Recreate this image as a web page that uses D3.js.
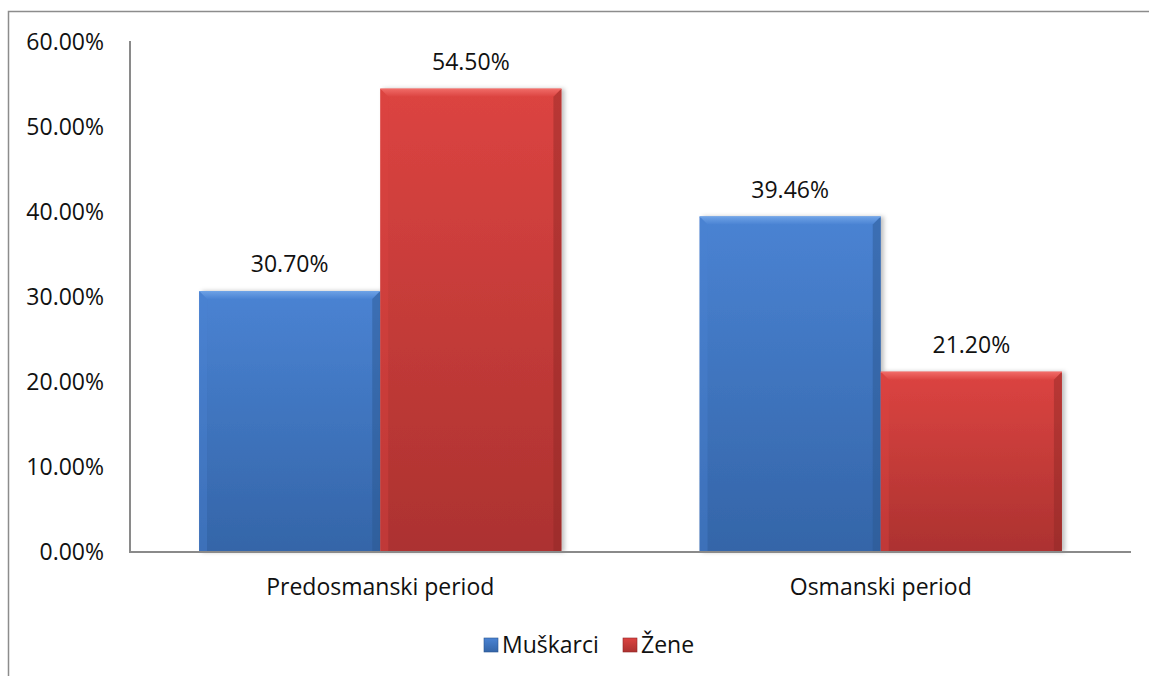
<!DOCTYPE html>
<html>
<head>
<meta charset="utf-8">
<script src="https://cdnjs.cloudflare.com/ajax/libs/d3/7.8.5/d3.min.js"></script>
<style>
  body { margin: 0; background: #fff; }
  svg { font-family: "Open Sans", Lato, sans-serif; }
</style>
</head>
<body>
<div id="chart"></div>
<script>
var categories = ["Predosmanski period", "Osmanski period"];
var seriesNames = ["Muškarci", "Žene"];
var muskarci = [0.307, 0.3946];
var zene = [0.545, 0.212];
var yTicks = [0, 0.1, 0.2, 0.3, 0.4, 0.5, 0.6];

var width = 1149, height = 676;
var margin = {top: 42, right: 18, bottom: 124, left: 130};
var fontSize = 23;

var svg = d3.select("#chart").append("svg")
    .attr("width", width)
    .attr("height", height);

// outer chart frame (left + top only visible)
svg.append("path")
    .attr("d", "M8.5," + height + "V11.5H" + width)
    .attr("fill", "none")
    .attr("stroke", "#8c8c8c")
    .attr("stroke-width", 1.5);

var defs = svg.append("defs");
var palettes = [
  {light: "#6ea2e6", mid: "#4a83d3", dark: "#3465a8", edge: "#2a568f"},
  {light: "#f06b67", mid: "#dc4441", dark: "#ac3230", edge: "#8f2726"}
];
palettes.forEach(function (p, i) {
  var g = defs.append("linearGradient").attr("id", "fill" + i)
      .attr("x1", 0).attr("y1", 0).attr("x2", 0).attr("y2", 1);
  g.append("stop").attr("offset", "0%").attr("stop-color", p.mid);
  g.append("stop").attr("offset", "100%").attr("stop-color", p.dark);
  var t = defs.append("linearGradient").attr("id", "top" + i)
      .attr("x1", 0).attr("y1", 0).attr("x2", 0).attr("y2", 1);
  t.append("stop").attr("offset", "0%").attr("stop-color", p.light);
  t.append("stop").attr("offset", "100%").attr("stop-color", p.mid);
});
var shadow = defs.append("filter").attr("id", "shadow")
    .attr("x", "-10%").attr("y", "-10%").attr("width", "130%").attr("height", "120%");
shadow.append("feDropShadow").attr("dx", 3).attr("dy", 0).attr("stdDeviation", 2)
    .attr("flood-color", "#000").attr("flood-opacity", 0.25);

var x0 = d3.scaleBand()
    .domain(categories)
    .range([margin.left, width - margin.right])
    .paddingInner(0.276)
    .paddingOuter(0.138);
var x1 = d3.scaleBand()
    .domain(seriesNames)
    .range([0, x0.bandwidth()]);
var y = d3.scaleLinear()
    .domain([0, 0.6])
    .range([height - margin.bottom, margin.top]);

var fmt = d3.format(".2%");

// y axis labels
svg.append("g").selectAll("text")
  .data(yTicks).enter().append("text")
    .attr("x", 104)
    .attr("y", function (d) { return y(d); })
    .attr("dy", "0.35em")
    .attr("text-anchor", "end")
    .attr("font-size", fontSize)
    .attr("fill", "#111")
    .text(fmt);

var rows = [];
categories.forEach(function (c, i) {
  rows.push({cat: c, s: 0, v: muskarci[i]});
  rows.push({cat: c, s: 1, v: zene[i]});
});

var bars = svg.append("g").selectAll("g.bar")
  .data(rows).enter().append("g").attr("class", "bar");

bars.each(function (d) {
  var g = d3.select(this);
  var bx = x0(d.cat) + x1(seriesNames[d.s]);
  var bw = x1.bandwidth();
  var by = y(d.v);
  var bh = y(0) - by;
  var p = palettes[d.s];
  var b = 8;
  g.append("rect").attr("x", bx).attr("y", by).attr("width", bw).attr("height", bh)
      .attr("fill", "url(#fill" + d.s + ")").attr("filter", "url(#shadow)");
  // top bevel
  g.append("path")
      .attr("d", "M" + bx + "," + by + "H" + (bx + bw) + "L" + (bx + bw - b) + "," + (by + b) + "H" + (bx + b) + "Z")
      .attr("fill", "url(#top" + d.s + ")");
  // left bevel
  g.append("path")
      .attr("d", "M" + bx + "," + by + "L" + (bx + b) + "," + (by + b) + "V" + (by + bh) + "H" + bx + "Z")
      .attr("fill", p.mid).attr("opacity", 0.4);
  // right bevel
  g.append("path")
      .attr("d", "M" + (bx + bw) + "," + by + "L" + (bx + bw - b) + "," + (by + b) + "V" + (by + bh) + "H" + (bx + bw) + "Z")
      .attr("fill", p.edge).attr("opacity", 0.45);
  g.append("line").attr("x1", bx).attr("x2", bx + bw).attr("y1", by + 0.5).attr("y2", by + 0.5)
      .attr("stroke", p.light).attr("stroke-width", 1);
  g.append("text")
      .attr("x", bx + bw / 2)
      .attr("y", by - 19)
      .attr("text-anchor", "middle")
      .attr("font-size", fontSize)
      .attr("fill", "#111")
      .text(fmt(d.v));
});

// axes lines
svg.append("line")
    .attr("x1", margin.left).attr("x2", margin.left)
    .attr("y1", margin.top - 1).attr("y2", y(0))
    .attr("stroke", "#8a8a8a").attr("stroke-width", 2);
svg.append("line")
    .attr("x1", margin.left - 1).attr("x2", width - margin.right)
    .attr("y1", y(0)).attr("y2", y(0))
    .attr("stroke", "#8a8a8a").attr("stroke-width", 2);

// category labels
svg.append("g").selectAll("text")
  .data(categories).enter().append("text")
    .attr("x", function (d) { return x0(d) + x0.bandwidth() / 2; })
    .attr("y", y(0) + 35)
    .attr("dy", "0.35em")
    .attr("text-anchor", "middle")
    .attr("font-size", fontSize)
    .attr("fill", "#111")
    .text(function (d) { return d; });

// legend
var legendX = [484, 623];
var leg = svg.append("g").selectAll("g")
  .data(seriesNames).enter().append("g")
    .attr("transform", function (d, i) { return "translate(" + legendX[i] + ",638)"; });
leg.append("rect").attr("width", 14).attr("height", 14)
    .attr("fill", function (d, i) { return "url(#fill" + i + ")"; })
    .attr("stroke", function (d, i) { return palettes[i].edge; }).attr("stroke-width", 0.6);
leg.append("text")
    .attr("x", 18).attr("y", 7).attr("dy", "0.35em")
    .attr("font-size", fontSize).attr("fill", "#111")
    .text(function (d) { return d; });
</script>
</body>
</html>
